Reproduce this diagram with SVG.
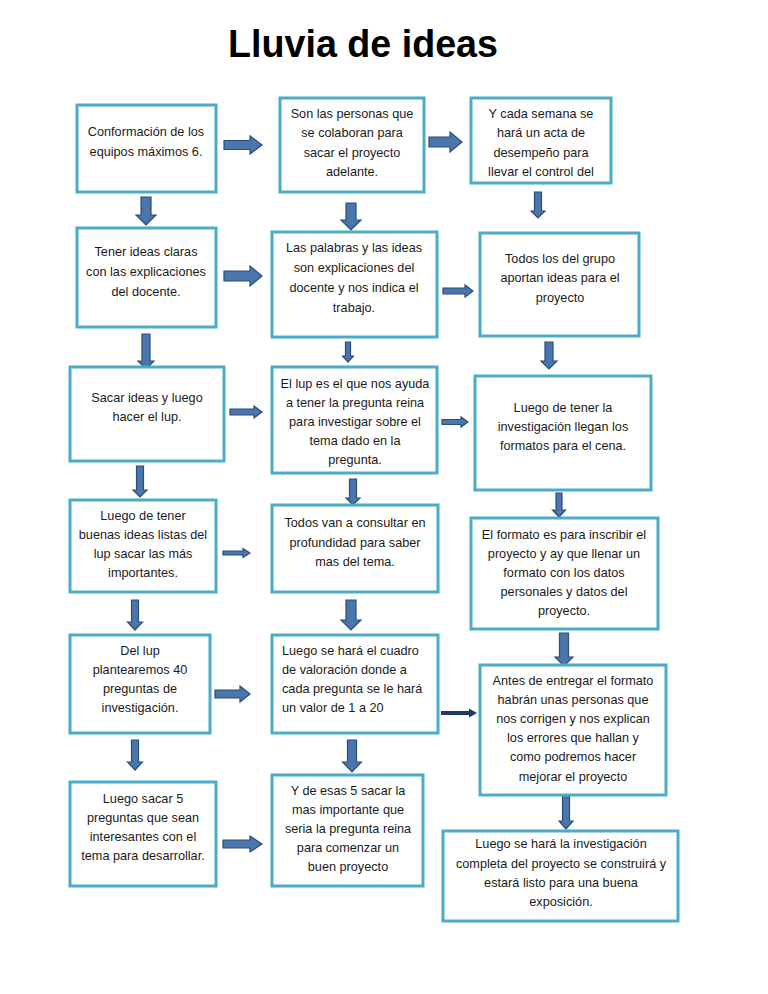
<svg xmlns="http://www.w3.org/2000/svg" width="768" height="994" viewBox="0 0 768 994">
<style>
.box{fill:#fff;stroke:#4bacc6;stroke-width:3}
.t{font-family:"Liberation Sans",Arial,sans-serif;font-size:12.7px;fill:#1a1a1a;text-anchor:middle}
.l{text-anchor:start}
.ar{fill:#4a76ad;stroke:#2c4d75;stroke-width:1.2;stroke-linejoin:miter}
.dk{fill:#1f3864;stroke:none}
.title{font-family:"Liberation Sans",Arial,sans-serif;font-weight:bold;font-size:39px;fill:#000;text-anchor:middle}
</style>
<rect width="768" height="994" fill="#fff"/>
<text class="title" x="363" y="57" textLength="270" lengthAdjust="spacingAndGlyphs">Lluvia de ideas</text>

<g id="connectors">
<polygon class="ar" points="224,140.5 250,140.5 250,136 262,145 250,154 250,149.5 224,149.5"/>
<polygon class="ar" points="429,137 450,137 450,132 462,142 450,152 450,147 429,147"/>
<polygon class="ar" points="224,271 250,271 250,266 262,276 250,286 250,281 224,281"/>
<polygon class="ar" points="443,288 465,288 465,285 473,291 465,297 465,294 443,294"/>
<polygon class="ar" points="230,409 254,409 254,406 262,412 254,418 254,415 230,415"/>
<polygon class="ar" points="442,419.5 461,419.5 461,417 468,422 461,427 461,424.5 442,424.5"/>
<polygon class="ar" points="223,551 243,551 243,548.5 250,553 243,557.5 243,555 223,555"/>
<polygon class="ar" points="215,690 240,690 240,686 250,694 240,702 240,698 215,698"/>
<polygon class="dk" points="441,711 469,711 469,708.5 477,713 469,717.5 469,715 441,715"/>
<polygon class="ar" points="223,840 250,840 250,836 262,844 250,852 250,848 223,848"/>

<polygon class="ar" points="141,197 151,197 151,215 156,215 146,225 136,215 141,215"/>
<polygon class="ar" points="346,203 356,203 356,220 361,220 351,230 341,220 346,220"/>
<polygon class="ar" points="534.5,192 541.5,192 541.5,211 545,211 538,218 531,211 534.5,211"/>
<polygon class="ar" points="142,334 150,334 150,361 154,361 146,369 138,361 142,361"/>
<polygon class="ar" points="345.5,342 350.5,342 350.5,356 353.5,356 348,362 342.5,356 345.5,356"/>
<polygon class="ar" points="545,342 553,342 553,361 557,361 549,369 541,361 545,361"/>
<polygon class="ar" points="136.5,466 143.5,466 143.5,490 147,490 140,497 133,490 136.5,490"/>
<polygon class="ar" points="349.5,479 356.5,479 356.5,498 360,498 353,505 346,498 349.5,498"/>
<polygon class="ar" points="556,493 562,493 562,510 565.5,510 559,517 552.5,510 556,510"/>
<polygon class="ar" points="131.5,600 138.5,600 138.5,622 142.5,622 135,630 127.5,622 131.5,622"/>
<polygon class="ar" points="346,600 356,600 356,620 361,620 351,630 341,620 346,620"/>
<polygon class="ar" points="559.5,633 568.5,633 568.5,657 573,657 564,666 555,657 559.5,657"/>
<polygon class="ar" points="131.5,740 138.5,740 138.5,762 142.5,762 135,770 127.5,762 131.5,762"/>
<polygon class="ar" points="347.5,740 356.5,740 356.5,762 361.5,762 352,772 342.5,762 347.5,762"/>
<polygon class="ar" points="562.5,795 569.5,795 569.5,821 573,821 566,829 559,821 562.5,821"/>
</g>

<g id="n1"><rect class="box" x="77" y="105" width="139" height="87"/>
<text class="t" x="146" y="136">Conformación de los</text><text class="t" x="146" y="156">equipos máximos 6.</text></g>
<g id="n2"><rect class="box" x="280" y="98" width="144" height="94"/>
<text class="t" x="352" y="118">Son las personas que</text><text class="t" x="352" y="137">se colaboran para</text><text class="t" x="352" y="157">sacar el proyecto</text><text class="t" x="352" y="176">adelante.</text></g>
<g id="n3"><rect class="box" x="471" y="98" width="140" height="85"/>
<text class="t" x="541" y="118">Y cada semana se</text><text class="t" x="541" y="137">hará un acta de</text><text class="t" x="541" y="157">desempeño para</text><text class="t" x="541" y="176">llevar el control del</text></g>

<g id="n4"><rect class="box" x="77" y="228" width="139" height="99"/>
<text class="t" x="146" y="256">Tener ideas claras</text><text class="t" x="146" y="276">con las explicaciones</text><text class="t" x="146" y="296">del docente.</text></g>
<g id="n5"><rect class="box" x="272" y="232" width="165" height="105"/>
<text class="t" x="354" y="252">Las palabras y las ideas</text><text class="t" x="354" y="272">son explicaciones del</text><text class="t" x="354" y="292">docente y nos indica el</text><text class="t" x="354" y="312">trabajo.</text></g>
<g id="n6"><rect class="box" x="480" y="233" width="159" height="103"/>
<text class="t" x="560" y="263">Todos los del grupo</text><text class="t" x="560" y="282">aportan ideas para el</text><text class="t" x="560" y="302">proyecto</text></g>

<g id="n7"><rect class="box" x="70" y="367" width="154" height="94"/>
<text class="t" x="147" y="402">Sacar ideas y luego</text><text class="t" x="147" y="421">hacer el lup.</text></g>
<g id="n8"><rect class="box" x="272" y="367" width="165" height="106"/>
<text class="t" x="355" y="388">El lup es el que nos ayuda</text><text class="t" x="355" y="407">a tener la pregunta reina</text><text class="t" x="355" y="426">para investigar sobre el</text><text class="t" x="355" y="445">tema dado en la</text><text class="t" x="355" y="464">pregunta.</text></g>
<g id="n9"><rect class="box" x="475" y="376" width="176" height="114"/>
<text class="t" x="563" y="412">Luego de tener la</text><text class="t" x="563" y="431">investigación llegan los</text><text class="t" x="563" y="450">formatos para el cena.</text></g>

<g id="n10"><rect class="box" x="70" y="500" width="146" height="92"/>
<text class="t" x="143" y="520">Luego de tener</text><text class="t" x="143" y="539">buenas ideas listas del</text><text class="t" x="143" y="558">lup sacar las más</text><text class="t" x="143" y="577">importantes.</text></g>
<g id="n11"><rect class="box" x="272" y="505" width="166" height="87"/>
<text class="t" x="355" y="527">Todos van a consultar en</text><text class="t" x="355" y="547">profundidad para saber</text><text class="t" x="355" y="566">mas del tema.</text></g>
<g id="n12"><rect class="box" x="471" y="518" width="187" height="111"/>
<text class="t" x="564" y="539">El formato es para inscribir el</text><text class="t" x="564" y="558">proyecto y ay que llenar un</text><text class="t" x="564" y="577">formato con los datos</text><text class="t" x="564" y="596">personales y datos del</text><text class="t" x="564" y="615">proyecto.</text></g>

<g id="n13"><rect class="box" x="70" y="635" width="140" height="98"/>
<text class="t" x="140" y="655">Del lup</text><text class="t" x="140" y="674">plantearemos 40</text><text class="t" x="140" y="693">preguntas de</text><text class="t" x="140" y="712">investigación.</text></g>
<g id="n14"><rect class="box" x="272" y="635" width="166" height="98"/>
<text class="t l" x="282" y="655">Luego se hará el cuadro</text><text class="t l" x="282" y="674">de valoración donde a</text><text class="t l" x="282" y="693">cada pregunta se le hará</text><text class="t l" x="282" y="712">un valor de 1 a 20</text></g>
<g id="n15"><rect class="box" x="480" y="665" width="186" height="130"/>
<text class="t" x="573" y="685">Antes de entregar el formato</text><text class="t" x="573" y="704">habrán unas personas que</text><text class="t" x="573" y="723">nos corrigen y nos explican</text><text class="t" x="573" y="742">los errores que hallan y</text><text class="t" x="573" y="761">como podremos hacer</text><text class="t" x="573" y="781">mejorar el proyecto</text></g>

<g id="n16"><rect class="box" x="70" y="782" width="146" height="104"/>
<text class="t" x="143" y="803">Luego sacar 5</text><text class="t" x="143" y="822">preguntas que sean</text><text class="t" x="143" y="841">interesantes con el</text><text class="t" x="143" y="860">tema para desarrollar.</text></g>
<g id="n17"><rect class="box" x="272" y="775" width="151" height="111"/>
<text class="t" x="348" y="795">Y de esas 5 sacar la</text><text class="t" x="348" y="814">mas importante que</text><text class="t" x="348" y="833">seria la pregunta reina</text><text class="t" x="348" y="852">para comenzar un</text><text class="t" x="348" y="871">buen proyecto</text></g>
<g id="n18"><rect class="box" x="443" y="831" width="235" height="90"/>
<text class="t" x="561" y="848">Luego se hará la investigación</text><text class="t" x="561" y="868">completa del proyecto se construirá y</text><text class="t" x="561" y="887">estará listo para una buena</text><text class="t" x="561" y="906">exposición.</text></g>
</svg>
